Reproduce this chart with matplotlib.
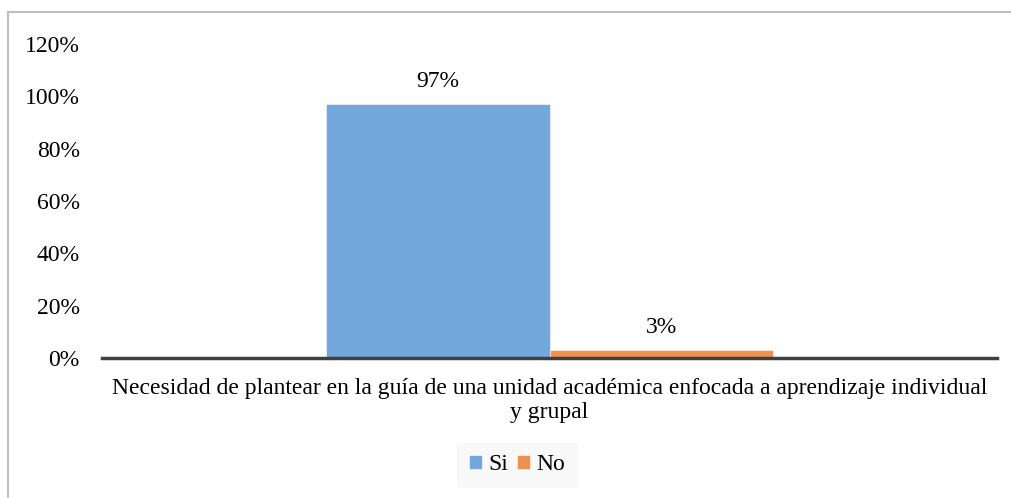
import matplotlib
matplotlib.use("Agg")
import matplotlib.pyplot as plt
import matplotlib.ticker as ticker
from matplotlib.patches import Rectangle

# ── Data ───────────────────────────────────────────────────────
category = "Necesidad de plantear en la guía de una unidad académica enfocada a aprendizaje individual\ny grupal"
series = ["Si", "No"]
values = [97, 3]
colors = ["#72a8db", "#f0904f"]
yticks = [0, 20, 40, 60, 80, 100, 120]

plt.rcParams["font.family"] = ["Liberation Serif", "DejaVu Serif"]
FS = 17

fig = plt.figure(figsize=(10.11, 4.98), dpi=100)
ax = fig.add_axes([0.1009, 0.281, 0.8853, 0.6306])

# outer frame of the chart area
fig.patches.append(Rectangle((8 / 1011, -0.05), 1.1, 1 - 12 / 498 + 0.05,
                             transform=fig.transFigure, fill=False,
                             edgecolor="#bfbfbf", linewidth=1.5))

width = 0.25
offsets = [-0.125, 0.125]
for name, v, c, off in zip(series, values, colors, offsets):
    ax.bar(off, v, width=width, color=c, label=name, edgecolor="white",
           linewidth=0.4)
    ax.annotate(f"{v}%", (off, v), xytext=(0, 9), textcoords="offset points",
                ha="center", va="bottom", fontsize=FS)

ax.set_xlim(-0.5, 0.5)
ax.set_ylim(0, 120)
ax.set_yticks(yticks)
ax.yaxis.set_major_formatter(ticker.FuncFormatter(lambda y, _: f"{y:.0f}%"))
ax.set_xticks([0])
ax.set_xticklabels([category], fontsize=FS, linespacing=1.2)
ax.tick_params(axis="y", length=0, labelsize=FS, pad=16)
ax.tick_params(axis="x", length=0, pad=14)

for s in ("top", "right", "left"):
    ax.spines[s].set_visible(False)
ax.spines["bottom"].set_color("#404040")
ax.spines["bottom"].set_linewidth(2.5)

leg = ax.legend(loc="center", bbox_to_anchor=(517 / 1011, 1 - 465 / 498),
                bbox_transform=fig.transFigure, ncol=2, frameon=True,
                fontsize=FS, handlelength=0.55, handleheight=0.55,
                handletextpad=0.25, columnspacing=0.4, borderpad=0.5,
                fancybox=False)
leg.get_frame().set_facecolor("#f8f8f8")
leg.get_frame().set_edgecolor("#f8f8f8")

fig.savefig("out.png", dpi=100)
plt.close(fig)
